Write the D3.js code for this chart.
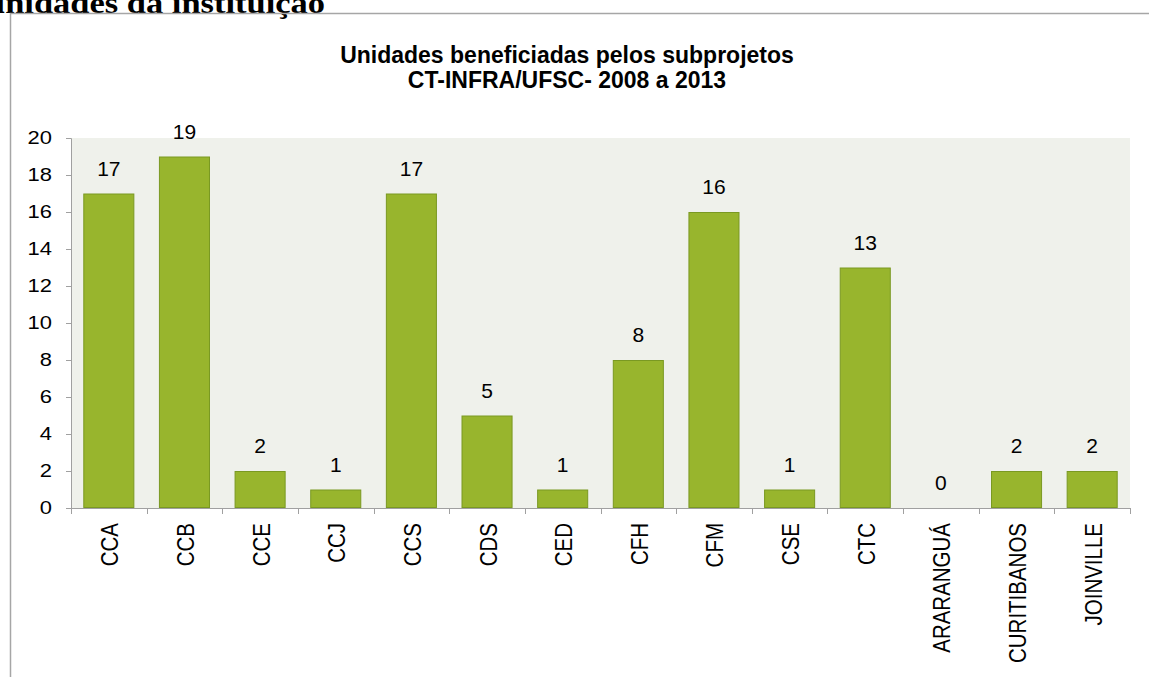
<!DOCTYPE html>
<html>
<head>
<meta charset="utf-8">
<script src="https://cdn.jsdelivr.net/npm/d3@7"></script>
<style>
  html, body { margin: 0; padding: 0; background: #fff; overflow: hidden; }
  svg { display: block; }
</style>
</head>
<body>
<svg id="chart" width="1149" height="677"></svg>
<script>
const categories = ["CCA","CCB","CCE","CCJ","CCS","CDS","CED","CFH","CFM","CSE","CTC","ARARANGUÁ","CURITIBANOS","JOINVILLE"];
const values = [17,19,2,1,17,5,1,8,16,1,13,0,2,2];
const yTicks = [0,2,4,6,8,10,12,14,16,18,20];
const titleLines = ["Unidades beneficiadas pelos subprojetos","CT-INFRA/UFSC- 2008 a 2013"];
const pageHeading = "unidades da instituição";

const svg = d3.select("#chart");
const plot = {left: 71, right: 1130, top: 138, bottom: 508};
const sans = "Liberation Sans, Arial, sans-serif";

// page heading (cut off at the top, as in the reference)
svg.append("text")
  .attr("x", -14).attr("y", 13)
  .attr("font-family", "Liberation Serif, Times New Roman, serif")
  .attr("font-weight", "bold").attr("font-size", 30)
  .attr("textLength", 339).attr("lengthAdjust", "spacingAndGlyphs")
  .attr("fill", "#000")
  .text(pageHeading);

// chart border
svg.append("rect")
  .attr("x", 10.5).attr("y", 13.5)
  .attr("width", 1200).attr("height", 800)
  .attr("fill", "none").attr("stroke", "#a6a6a6").attr("stroke-width", 1.5);

// title
svg.append("g").selectAll("text").data(titleLines).join("text")
  .attr("x", 567).attr("y", (d, i) => 63 + i * 25)
  .attr("text-anchor", "middle")
  .attr("font-family", sans)
  .attr("font-weight", "bold").attr("font-size", 23)
  .attr("fill", "#000")
  .text(d => d);

const x = d3.scaleBand().domain(categories)
  .range([plot.left, plot.right])
  .paddingInner(0.325).paddingOuter(0.1625);
const y = d3.scaleLinear().domain([0, 20]).range([plot.bottom, plot.top]);

// plot background
svg.append("rect")
  .attr("x", plot.left).attr("y", plot.top)
  .attr("width", plot.right - plot.left).attr("height", plot.bottom - plot.top)
  .attr("fill", "#eff1eb");

// bars
svg.append("g").selectAll("rect").data(values).join("rect")
  .attr("x", (d, i) => x(categories[i]) + 0.5)
  .attr("y", d => y(d) + 0.5)
  .attr("width", x.bandwidth() - 1)
  .attr("height", d => Math.max(0, y(0) - y(d) - 1))
  .attr("fill", "#98b52d")
  .attr("stroke", "#7a9922").attr("stroke-width", 1)
  .attr("display", d => d > 0 ? null : "none");

// value labels
svg.append("g").selectAll("text").data(values).join("text")
  .attr("x", (d, i) => x(categories[i]) + x.bandwidth() / 2)
  .attr("y", d => y(d) - 18)
  .attr("text-anchor", "middle")
  .attr("font-family", sans)
  .attr("font-size", 21).attr("fill", "#000")
  .text(d => d);

// y axis
const yAxis = svg.append("g")
  .attr("transform", `translate(${plot.left},0)`)
  .call(d3.axisLeft(y).tickValues(yTicks).tickSize(5).tickFormat(d3.format("d")));
yAxis.select(".domain").attr("stroke", "#a0a0a0");
yAxis.selectAll(".tick line").attr("stroke", "#a0a0a0");
yAxis.selectAll(".tick text")
  .attr("x", null)
  .attr("transform", "translate(-19,0) scale(1.22,1)")
  .attr("font-family", sans)
  .attr("font-size", 18).attr("fill", "#000");

// x axis line and boundary ticks
const xg = svg.append("g");
xg.append("line")
  .attr("x1", plot.left).attr("x2", plot.right)
  .attr("y1", plot.bottom + 0.5).attr("y2", plot.bottom + 0.5)
  .attr("stroke", "#a0a0a0");
const bounds = categories.map(c => x(c) - x.step() * x.paddingInner() / 2).concat([plot.right]);
xg.selectAll("line.tk").data(bounds).join("line").attr("class", "tk")
  .attr("x1", d => Math.round(d) + 0.5).attr("x2", d => Math.round(d) + 0.5)
  .attr("y1", plot.bottom).attr("y2", plot.bottom + 6)
  .attr("stroke", "#a0a0a0");

// category labels (rotated)
xg.selectAll("text").data(categories).join("text")
  .attr("transform", d => `translate(${x(d) + x.bandwidth() / 2 + 1},${plot.bottom + 15}) scale(1.18,1) rotate(-90)`)
  .attr("text-anchor", "end").attr("dy", "0.35em")
  .attr("font-family", sans)
  .attr("font-size", 20.5).attr("fill", "#000")
  .text(d => d);
</script>
</body>
</html>
